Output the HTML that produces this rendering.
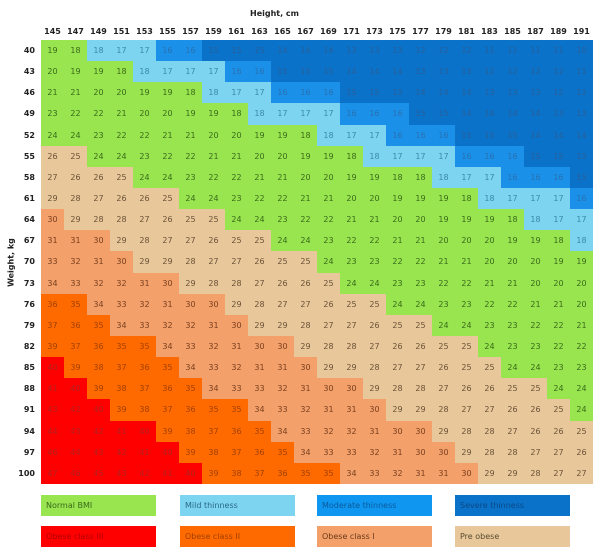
<!DOCTYPE html>
<html><head><meta charset="utf-8"><style>
body{margin:0;width:608px;height:555px;background:#fff;font-family:"DejaVu Sans","Liberation Sans",sans-serif;position:relative;overflow:hidden}
.a{position:absolute}
.c{position:absolute;width:23px;text-align:center;font-size:8px}
.h{position:absolute;width:23px;text-align:center;font-size:8px;font-weight:bold;color:#222;top:27px}
.r{position:absolute;left:0;width:35px;text-align:right;font-size:8px;font-weight:bold;color:#222}
.lg{position:absolute;width:115px;height:21px;font-size:8px;line-height:21px;padding-left:5px;box-sizing:border-box}
</style></head><body>
<div class="a" style="left:250px;top:9px;font-size:8px;font-weight:bold;color:#222">Height, cm</div>
<div class="a" style="left:-14px;top:258px;font-size:8px;font-weight:bold;color:#222;transform:rotate(-90deg);width:50px;text-align:center">Weight, kg</div>
<div id="g"></div>
<div class="lg" style="left:41px;top:495px;background:#99e550;color:#3a6a1a">Normal BMI</div>
<div class="lg" style="left:180px;top:495px;background:#7dd4f0;color:#2a6a88">Mild thinness</div>
<div class="lg" style="left:317px;top:495px;background:#0f96f0;color:#0a5a9a">Moderate thinness</div>
<div class="lg" style="left:455px;top:495px;background:#0a72c8;color:#0a4a88">Severe thinness</div>
<div class="lg" style="left:41px;top:526px;background:#ff0000;color:#b00000">Obese class III</div>
<div class="lg" style="left:180px;top:526px;background:#ff6a00;color:#a04000">Obese class II</div>
<div class="lg" style="left:317px;top:526px;background:#f3a06a;color:#6a3a1a">Obese class I</div>
<div class="lg" style="left:455px;top:526px;background:#e8c89a;color:#5a4a30">Pre obese</div>
<script>
var g=document.getElementById('g'),s='';
function col(b){
 if(b<16)return['#0a72c8','#2a5f9a'];
 if(b<17)return['#1a90e8','#2a70b0'];
 if(b<18.5)return['#7dd4f0','#3a8aa8'];
 if(b<25)return['#99e550','#3a6a1a'];
 if(b<30)return['#e8c89a','#6a5238'];
 if(b<35)return['#f3a06a','#7a4020'];
 if(b<40)return['#ff6a00','#a04000'];
 return['#ff0000','#b02020'];
}
for(var j=0;j<24;j++){var h=145+2*j;s+='<div class="h" style="left:'+(41+23*j)+'px">'+h+'</div>';}
for(var i=0;i<21;i++){var w=40+3*i,y=40+i*444/21;
 s+='<div class="r" style="top:'+(y+6)+'px">'+w+'</div>';
 for(var j=0;j<24;j++){var h=(145+2*j)/100,b=w/(h*h),c=col(b);
  s+='<div class="c" style="left:'+(41+23*j)+'px;top:'+y+'px;height:'+(444/21+0.5)+'px;line-height:'+(444/21)+'px;background:'+c[0]+';color:'+c[1]+'">'+Math.floor(b)+'</div>';}}
g.innerHTML=s;
</script>
</body></html>
